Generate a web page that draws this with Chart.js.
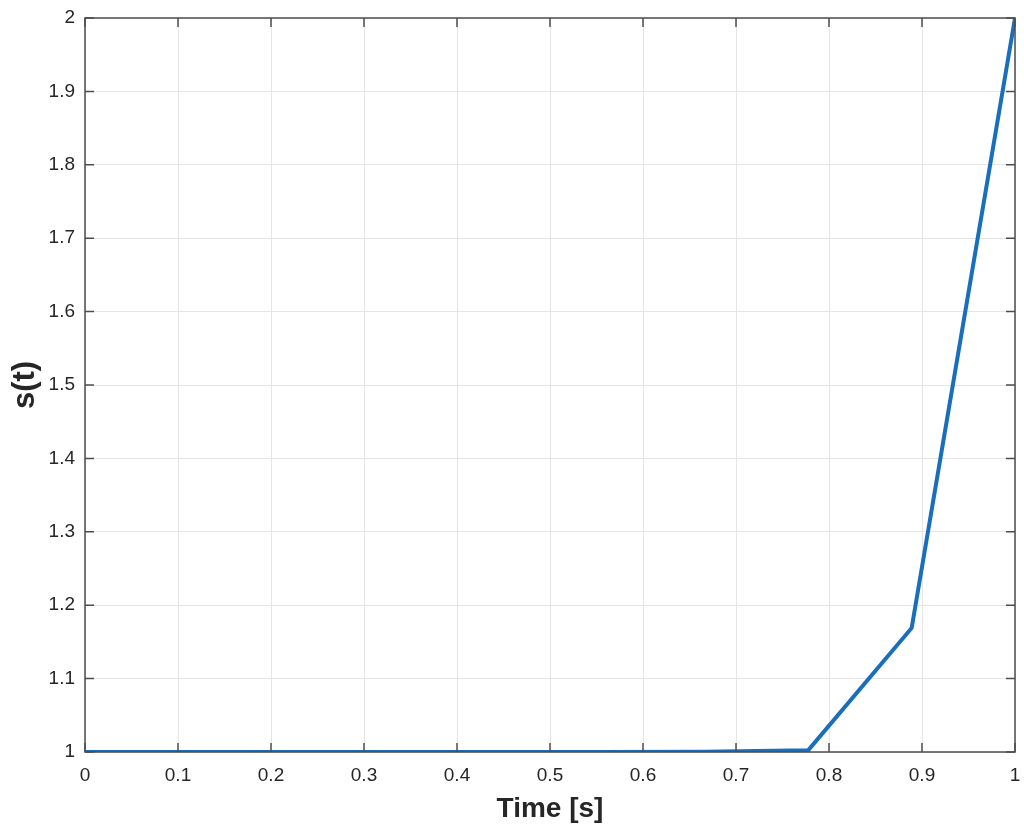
<!DOCTYPE html>
<html>
<head>
<meta charset="utf-8">
<script src="https://cdn.jsdelivr.net/npm/chart.js@4/dist/chart.umd.min.js"></script>
<style>
    html, body { margin: 0; padding: 0; background: #ffffff; }
    #wrap { width: 1024px; height: 834px; position: relative; }
</style>
</head>
<body>
<div id="wrap"><canvas id="grafico"></canvas></div>
<script>
// Time samples (t = k/9) and signal values
const tempos = [0, 0.1111, 0.2222, 0.3333, 0.4444, 0.5556, 0.6667, 0.7778, 0.8889, 1];
const sinal = [1, 1, 1, 1, 1, 1, 1.0003, 1.0025, 1.169, 2];
const ticksX = [0, 0.1, 0.2, 0.3, 0.4, 0.5, 0.6, 0.7, 0.8, 0.9, 1];
const ticksY = [1, 1.1, 1.2, 1.3, 1.4, 1.5, 1.6, 1.7, 1.8, 1.9, 2];

const corEixo = '#4d4d4d';
const corTexto = '#262626';
const fonte = '"Liberation Sans", Arial, Helvetica, sans-serif';

const pontos = tempos.map((t, i) => ({ x: t, y: sinal[i] }));

// Caixa em volta da área do gráfico + ticks para dentro nos quatro lados
const caixaPlugin = {
    id: 'caixa',
    afterDraw(chart) {
        const { ctx, chartArea: a, scales } = chart;
        const len = 9;
        ctx.save();
        ctx.strokeStyle = corEixo;
        ctx.lineWidth = 1.5;
        ctx.beginPath();
        ticksX.forEach(v => {
            const px = scales.x.getPixelForValue(v);
            ctx.moveTo(px, a.bottom); ctx.lineTo(px, a.bottom - len);
            ctx.moveTo(px, a.top); ctx.lineTo(px, a.top + len);
        });
        ticksY.forEach(v => {
            const py = scales.y.getPixelForValue(v);
            ctx.moveTo(a.left, py); ctx.lineTo(a.left + len, py);
            ctx.moveTo(a.right, py); ctx.lineTo(a.right - len, py);
        });
        ctx.stroke();
        ctx.strokeRect(a.left, a.top, a.right - a.left, a.bottom - a.top);
        ctx.restore();
    }
};

const formatar = v => String(Number(Number(v).toFixed(1)));

new Chart(document.getElementById('grafico').getContext('2d'), {
    type: 'line',
    data: {
        datasets: [{
            data: pontos,
            borderColor: '#1a6fbd',
            borderWidth: 4,
            pointRadius: 0,
            fill: false,
            tension: 0
        }]
    },
    options: {
        responsive: true,
        maintainAspectRatio: false,
        animation: false,
        layout: { padding: { top: 18, right: 9, left: 0, bottom: 0 } },
        plugins: {
            legend: { display: false },
            tooltip: { enabled: false }
        },
        scales: {
            x: {
                type: 'linear',
                min: 0,
                max: 1,
                afterBuildTicks: s => { s.ticks = ticksX.map(v => ({ value: v })); },
                afterFit: s => {
                    s.height = 82;
                    s.paddingLeft = 0;
                    s.paddingRight = 0;
                },
                grid: { color: '#e5e5e5', lineWidth: 1, drawTicks: false },
                border: { display: false },
                ticks: {
                    padding: 12,
                    color: corTexto,
                    font: { family: fonte, size: 19 },
                    maxRotation: 0,
                    callback: formatar
                },
                title: {
                    display: true,
                    text: 'Time [s]',
                    color: corTexto,
                    font: { family: fonte, size: 28, weight: 'bold' },
                    padding: { top: 0, bottom: 8 }
                }
            },
            y: {
                type: 'linear',
                min: 1,
                max: 2,
                afterBuildTicks: s => { s.ticks = ticksY.map(v => ({ value: v })); },
                afterFit: s => {
                    s.width = 85;
                    s.paddingTop = 0;
                    s.paddingBottom = 0;
                },
                grid: { color: '#e5e5e5', lineWidth: 1, drawTicks: false },
                border: { display: false },
                ticks: {
                    padding: 10,
                    color: corTexto,
                    font: { family: fonte, size: 19 },
                    callback: formatar
                },
                title: {
                    display: true,
                    text: 's(t)',
                    color: corTexto,
                    font: { family: fonte, size: 31, weight: 'bold' },
                    padding: { top: 7, bottom: 0 }
                }
            }
        }
    },
    plugins: [caixaPlugin]
});
</script>
</body>
</html>
